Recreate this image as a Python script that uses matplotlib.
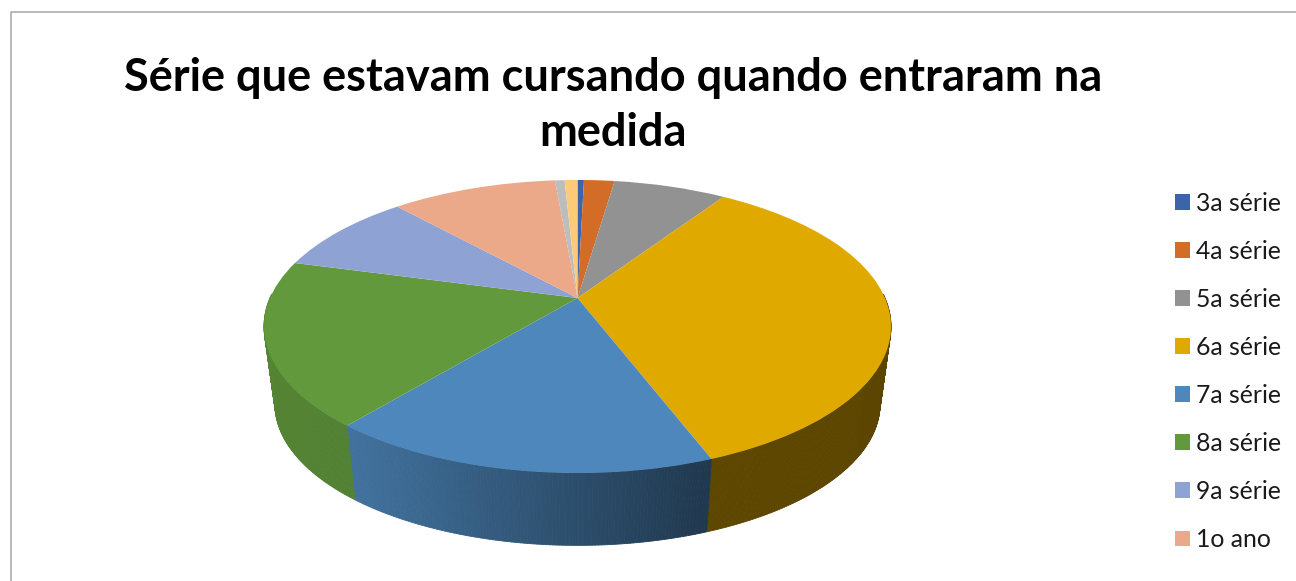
import numpy as np
import matplotlib
matplotlib.use("Agg")
import matplotlib.pyplot as plt
from matplotlib.collections import PolyCollection
from matplotlib.patches import Patch
from matplotlib.transforms import Transform

plt.rcParams['font.family'] = ['Lato', 'DejaVu Sans']

categories = ['3a série', '4a série', '5a série', '6a série', '7a série',
              '8a série', '9a série', '1o ano', '2o ano', '3o ano']
values = [0.4, 1.9, 7.0, 34.9, 16.8, 18.2, 9.1, 10.3, 0.6, 0.8]
colors = ['#3b64ad', '#d26c26', '#929292', '#e0a900', '#4d87bb',
          '#62993c', '#8fa2d4', '#eca98a', '#bdbdbd', '#fdcb78']
legend_count = 8
title = 'Série que estavam cursando quando entraram na\nmedida'


class Tilt(Transform):
    """Perspective view of the unit-circle pie, into pixel-like data coords."""
    input_dims = output_dims = 2
    is_affine = False
    has_inverse = False

    def transform_non_affine(self, xy):
        xy = np.asarray(xy, float)
        w = 1 + 0.1945 * xy[:, 1]
        return np.column_stack([577.5 + 307.5 * xy[:, 0] / w,
                                (298 - 83 * xy[:, 1]) / w])


def lower_rim(p):
    return np.column_stack([577 + 0.965 * (p[:, 0] - 577),
                            404 + 0.965 * (p[:, 1] - 326.5)])


fig = plt.figure(figsize=(12.96, 5.81), dpi=100)
ax = fig.add_axes([0, 0, 1, 1])
wedges, _ = ax.pie(values, colors=colors, startangle=90, counterclock=False,
                   wedgeprops=dict(linewidth=0))
ax.set_aspect('auto')
ax.set_xlim(0, 1296)
ax.set_ylim(581, 0)
ax.set_axis_off()

tilt = Tilt()
for w in wedges:
    col = np.array(matplotlib.colors.to_rgb(w.get_facecolor()))
    th = np.radians(np.linspace(w.theta1, w.theta2,
                                max(2, int(abs(w.theta2 - w.theta1) * 2) + 1)))
    top = tilt.transform(np.column_stack([np.cos(th), np.sin(th)]))
    low = lower_rim(top)
    front = [i for i in range(len(th) - 1) if np.sin(th[i]) < 0.02 or np.sin(th[i + 1]) < 0.02]
    if front:
        polys = [[top[i], top[i + 1], low[i + 1], low[i]] for i in front]
        xm = np.array([0.5 * (top[i, 0] + top[i + 1, 0]) for i in front])
        shade = np.interp(xm, [270, 354, 708, 890], [0.86, 0.84, 0.42, 0.41])
        fc = np.clip(col[None, :] * shade[:, None], 0, 1)
        ax.add_collection(PolyCollection(polys, facecolors=fc, edgecolors=fc,
                                         linewidths=0.6, zorder=1))
    w.set_transform(tilt + ax.transData)
    w.set_zorder(2)
    w.set_clip_on(False)

ax.plot([11, 11, 1296], [581, 12, 12], color='#a6a6a6', lw=1.1, zorder=0)

fig.text(613 / 1296, 1 - 105.5 / 581, title, ha='center', va='center',
         fontsize=32.5, fontweight='bold', color='black', linespacing=1.38)

handles = [Patch(facecolor=c, edgecolor='none') for c in colors[:legend_count]]
fs = 17.8
fpx = fs * 100 / 72
ax.legend(handles, categories[:legend_count], loc='upper left',
          bbox_to_anchor=(1175 / 1296, 1 - 192 / 581), frameon=False,
          fontsize=fs, handlelength=15 / fpx, handleheight=15 / fpx,
          handletextpad=6 / fpx, labelspacing=1.012,
          borderpad=0, borderaxespad=0, labelcolor='#1a1a1a')

fig.savefig('out.png', dpi=100)
